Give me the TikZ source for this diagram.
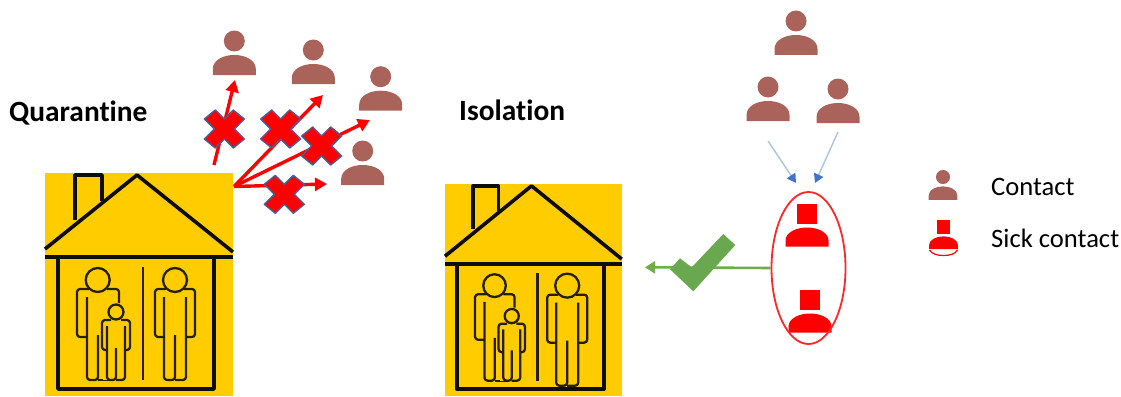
\documentclass[tikz,border=0pt]{standalone}
\usepackage{fontspec}
\setmainfont[Ligatures=NoCommon]{Carlito}
\usetikzlibrary{arrows.meta,shapes.geometric}
\definecolor{housey}{HTML}{FFCC00}
\definecolor{personc}{HTML}{A9635B}
\definecolor{sickc}{HTML}{FF0000}
\definecolor{xedge}{HTML}{4A5F9A}
\definecolor{greenc}{HTML}{70AD47}
\definecolor{greend}{HTML}{6AA84F}
\definecolor{bluel}{HTML}{A9C3E8}
\definecolor{blued}{HTML}{4472C4}
\tikzset{
  houseline/.style={draw=black!95,line width=3.6pt,line join=round},
  figline/.style={draw=black!85!housey,line width=2.3pt,rounded corners=3pt,line join=round},
  redarrow/.style={draw=sickc,line width=3.4pt,-{Triangle[length=12pt,width=13pt]}},
  bluearrow/.style={draw=bluel,line width=1.4pt,-{Triangle[length=9pt,width=10pt,color=blued]}},
  greenarrow/.style={draw=greenc,line width=2.6pt,-{Triangle[length=10pt,width=12pt]}},
  label head/.style={font=\bfseries\fontsize{29.4}{32}\selectfont,anchor=base west,inner sep=0pt},
  label leg/.style={font=\fontsize{26.6}{30}\selectfont,anchor=base west,inner sep=0pt},
  adultfig/.pic={
    \draw[figline] (0,0) circle[radius=12];
    \draw[figline] (-9,9) -- (-20,9) -- (-20,57) -- (-11,57);
    \draw[figline] (9,9) -- (20,9) -- (20,57) -- (11,57);
    \draw[figline] (-11,17) -- (-11,100) -- (0,100) -- (0,55);
    \draw[figline] (11,17) -- (11,100) -- (0,100);
  },
  housepic/.pic={
    \fill[housey] (0,0) rectangle (188,223);
    \draw[houseline] (30,47) -- (30,2) -- (57,2) -- (57,28);
    \draw[houseline] (0,76) -- (92,2) -- (188,79);
    \draw[houseline] (0,84) -- (188,84);
    \draw[houseline] (13,84) -- (13,216) -- (169,216) -- (169,84);
    \draw[figline,rounded corners=0pt,line width=2.8pt] (98,94) -- (98,207);
    % right adult
    \pic at (130,107) {adultfig};
    % left adult, partly behind the child
    \draw[figline] (52.7,107) circle[radius=12];
    \draw[figline] (44,116) -- (32,116) -- (32,164) -- (42,164);
    \draw[figline] (42,124) -- (42,207) -- (53,207) -- (53,162);
    \draw[figline] (62,116) -- (74,116) -- (74,130);
    \draw[figline] (53,207) -- (65,207);
    % child
    \fill[housey] (58,146) rectangle (85,207);
    \draw[figline] (71,139) circle[radius=7.5];
    \draw[figline] (66,147) -- (57,147) -- (57,177) -- (62,177);
    \draw[figline] (76,147) -- (85,147) -- (85,177) -- (80,177);
    \draw[figline] (62,153) -- (62,207) -- (71,207) -- (71,175);
    \draw[figline] (80,153) -- (80,207) -- (71,207);
  },
  personpic/.pic={
    \fill[personc] (0,0) circle[radius=10.5];
    \fill[personc] (-21.5,34) -- (-21.5,28) .. controls (-21.5,19) and (-11,14) .. (0,14)
      .. controls (11,14) and (21.5,19) .. (21.5,28) -- (21.5,34) -- cycle;
  },
  sickpic/.pic={
    \fill[sickc] (-10,-10) rectangle (10,10);
    \fill[sickc] (-21.5,33) -- (-21.5,27) .. controls (-21.5,19) and (-11,14) .. (0,14)
      .. controls (11,14) and (21.5,19) .. (21.5,27) -- (21.5,33) -- cycle;
  },
  crosspic/.pic={
    \draw[fill=sickc,draw=xedge,line width=1.4pt,line join=round]
      (0,-10) -- (9,-19) -- (20,-10) -- (10,0) -- (20,10) -- (9,19) -- (0,10) -- (-9,19)
      -- (-20,10) -- (-10,0) -- (-20,-10) -- (-9,-19) -- cycle;
  },
}
\begin{document}
\begin{tikzpicture}[x=1pt,y=-1pt]
\useasboundingbox (0,0) rectangle (1121,396);
% houses
\pic at (45,173) {housepic};
\pic[xscale=.94,yscale=.95] at (445,184) {housepic};
% people, left group
\coordinate (pa) at (234.3,41);
\coordinate (pb) at (313.3,50);
\coordinate (pc) at (380.7,76.7);
\coordinate (pd) at (362.7,151);
\pic at (pa) {personpic};
\pic at (pb) {personpic};
\pic at (pc) {personpic};
\pic at (pd) {personpic};
% people, right group
\coordinate (pe) at (796,21);
\coordinate (pf) at (768,87);
\coordinate (pg) at (838,89);
\pic at (pe) {personpic};
\pic at (pf) {personpic};
\pic at (pg) {personpic};
% red arrows
\coordinate (src) at (234,186.5);
\coordinate (srcb) at (214,165);
\coordinate (ta) at (235,80);
\coordinate (tb) at (323,95);
\coordinate (tc) at (370,120);
\coordinate (td) at (327,184);
\draw[redarrow] (srcb) -- (ta);
\draw[redarrow] (src) -- (tb);
\draw[redarrow] (src) -- (tc);
\draw[redarrow] (src) -- (td);
% crosses
\pic at (224.3,129) {crosspic};
\pic at (280.7,129) {crosspic};
\pic at (321.7,146) {crosspic};
\pic at (284.3,194.3) {crosspic};
% sick group
\pic at (807,213.5) {sickpic};
\pic at (810,299.5) {sickpic};
\node[draw=sickc!85,line width=1.8pt,ellipse,minimum width=74pt,minimum height=152pt,inner sep=0pt] (oval) at (808.5,268) {};
% blue arrows
\coordinate (ba) at (768,141);
\coordinate (bb) at (796,183);
\coordinate (bc) at (838,132);
\coordinate (bd) at (815,183);
\draw[bluearrow] (ba) -- (bb);
\draw[bluearrow] (bc) -- (bd);
% green arrow and check mark
\coordinate (gt) at (645,267.3);
\draw[greenarrow] (oval.west) -- (gt);
\fill[greend] (670,269.3) -- (680,258.3) -- (691.7,267.3) -- (723.3,234) -- (735.3,245) -- (693.3,291.3) -- cycle;
% legend
\pic[scale=.67] at (943,177) {personpic};
\pic[scale=.67] at (943.5,227) {sickpic};
\draw[sickc,line width=1.2pt] (929.5,250) .. controls (932,254) and (937,255.5) .. (943.5,255.5)
  .. controls (950,255.5) and (955,254) .. (957.5,250);
% text
\node[label head] (q) at (9,121) {Quarantine};
\node[label head] (i) at (459,120) {Isolation};
\node[label leg] (c) at (991,195) {Contact};
\node[label leg] (s) at (991,247) {Sick contact};
\end{tikzpicture}
\end{document}
